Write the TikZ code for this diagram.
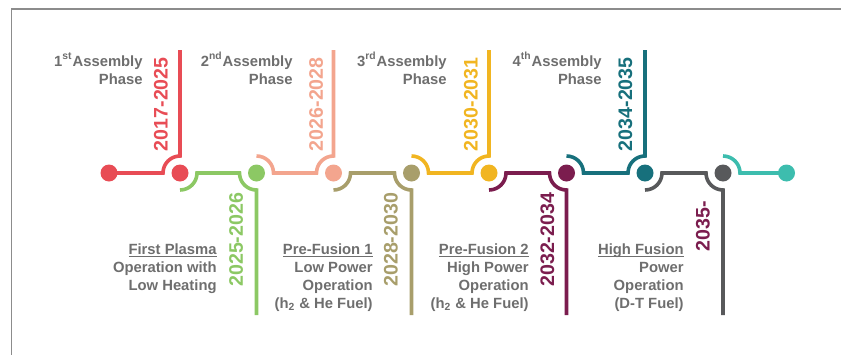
\documentclass[tikz,border=0pt]{standalone}
\usepackage{fontspec}
\setmainfont{Liberation Sans}
\definecolor{tlRed}{HTML}{E84C55}
\definecolor{tlGreen}{HTML}{8CC864}
\definecolor{tlSalmon}{HTML}{F3A58E}
\definecolor{tlOlive}{HTML}{A89E6B}
\definecolor{tlYellow}{HTML}{F1B521}
\definecolor{tlPurple}{HTML}{7B1D4E}
\definecolor{tlTeal}{HTML}{17707C}
\definecolor{tlGray}{HTML}{58595B}
\definecolor{tlAqua}{HTML}{3DBDAE}
\definecolor{tlText}{HTML}{6E6E6E}
\definecolor{tlFrame}{HTML}{8C8C8C}
\usetikzlibrary{positioning}
\newcommand{\ulabel}[1]{\setbox0\hbox{#1}\rlap{\rule[-1.6pt]{\wd0}{0.6pt}}\box0}

\begin{document}
\begin{tikzpicture}[x=0.5pt, y=0.5pt,
  dot/.style={circle, fill=#1, minimum size=8.5pt, inner sep=0pt},
  seg/.style={draw=#1, line width=1.8pt},
  year/.style={font=\fontsize{9.8}{11}\selectfont\bfseries, text=#1,
    rotate=90, inner sep=0pt},
  desc/.style={font=\fontsize{7.4}{9}\selectfont\bfseries, text=tlText,
    align=right, inner sep=0pt, anchor=base east}]

  \useasboundingbox (0,0) rectangle (841,355);
  \draw[tlFrame, line width=0.75pt] (841,346) -- (11.5,346) -- (11.5,0);

  % dots along the timeline
  \node[dot=tlRed]    (d0) at (109,182) {};
  \node[dot=tlRed]    (d1) at (180,182) {};
  \node[dot=tlGreen]  (d2) at (256.5,182) {};
  \node[dot=tlSalmon] (d3) at (333.5,182) {};
  \node[dot=tlOlive]  (d4) at (411.5,182) {};
  \node[dot=tlYellow] (d5) at (489,182) {};
  \node[dot=tlPurple] (d6) at (566.5,182) {};
  \node[dot=tlTeal]   (d7) at (645,182) {};
  \node[dot=tlGray]   (d8) at (723,182) {};
  \node[dot=tlAqua]   (d9) at (786.5,182) {};

  % segments between the dots
  \draw[seg=tlRed] (d0.center) -- ([xshift=-8.5pt]d1.center)
    arc[start angle=180, end angle=90, radius=8.5pt] -- (d1 |- 0,305);
  \draw[seg=tlGreen] ([yshift=-8.5pt]d1.center)
    arc[start angle=270, end angle=360, radius=8.5pt] -- ([xshift=-8.5pt]d2.center)
    arc[start angle=180, end angle=270, radius=8.5pt] -- (d2 |- 0,40);
  \draw[seg=tlSalmon] ([yshift=8.5pt]d2.center)
    arc[start angle=90, end angle=0, radius=8.5pt] -- ([xshift=-8.5pt]d3.center)
    arc[start angle=180, end angle=90, radius=8.5pt] -- (d3 |- 0,305);
  \draw[seg=tlOlive] ([yshift=-8.5pt]d3.center)
    arc[start angle=270, end angle=360, radius=8.5pt] -- ([xshift=-8.5pt]d4.center)
    arc[start angle=180, end angle=270, radius=8.5pt] -- (d4 |- 0,40);
  \draw[seg=tlYellow] ([yshift=8.5pt]d4.center)
    arc[start angle=90, end angle=0, radius=8.5pt] -- ([xshift=-8.5pt]d5.center)
    arc[start angle=180, end angle=90, radius=8.5pt] -- (d5 |- 0,305);
  \draw[seg=tlPurple] ([yshift=-8.5pt]d5.center)
    arc[start angle=270, end angle=360, radius=8.5pt] -- ([xshift=-8.5pt]d6.center)
    arc[start angle=180, end angle=270, radius=8.5pt] -- (d6 |- 0,40);
  \draw[seg=tlTeal] ([yshift=8.5pt]d6.center)
    arc[start angle=90, end angle=0, radius=8.5pt] -- ([xshift=-8.5pt]d7.center)
    arc[start angle=180, end angle=90, radius=8.5pt] -- (d7 |- 0,305);
  \draw[seg=tlGray] ([yshift=-8.5pt]d7.center)
    arc[start angle=270, end angle=360, radius=8.5pt] -- ([xshift=-8.5pt]d8.center)
    arc[start angle=180, end angle=270, radius=8.5pt] -- (d8 |- 0,40);
  \draw[seg=tlAqua] ([yshift=8.5pt]d8.center)
    arc[start angle=90, end angle=0, radius=8.5pt] -- (d9.center);

  % years
  \node[year=tlRed, anchor=west]    (y1) at (161,203.5) {2017-2025};
  \node[year=tlGreen, anchor=east]  (y2) at (236,162.5) {2025-2026};
  \node[year=tlSalmon, anchor=west] (y3) at (316,203.5) {2026-2028};
  \node[year=tlOlive, anchor=east]  (y4) at (391,162.5) {2028-2030};
  \node[year=tlYellow, anchor=west] (y5) at (471,203.5) {2030-2031};
  \node[year=tlPurple, anchor=east] (y6) at (547.5,162.5) {2032-2034};
  \node[year=tlTeal, anchor=west]   (y7) at (625.5,203.5) {2034-2035};
  \node[year=tlPurple, anchor=east] (y8) at (703,154) {2035-};

  % phases (base = last line)
  \node[desc] (t1) at (143,271) {1\textsuperscript{st}Assembly\\Phase};
  \node[desc] (t2) at (293,271) {2\textsuperscript{nd}Assembly\\Phase};
  \node[desc] (t3) at (447,271) {3\textsuperscript{rd}Assembly\\Phase};
  \node[desc] (t4) at (602,271) {4\textsuperscript{th}Assembly\\Phase};
  \node[desc] (b1) at (217,65) {\ulabel{First Plasma}\\Operation with\\Low Heating};
  \node[desc] (b2) at (373,47) {\ulabel{Pre-Fusion 1}\\Low Power\\Operation\\(h\textsubscript{2} \& He Fuel)};
  \node[desc] (b3) at (529,47) {\ulabel{Pre-Fusion 2}\\High Power\\Operation\\(h\textsubscript{2} \& He Fuel)};
  \node[desc] (b4) at (684,47) {\ulabel{High Fusion}\\Power\\Operation\\(D-T Fuel)};
\end{tikzpicture}
\end{document}
